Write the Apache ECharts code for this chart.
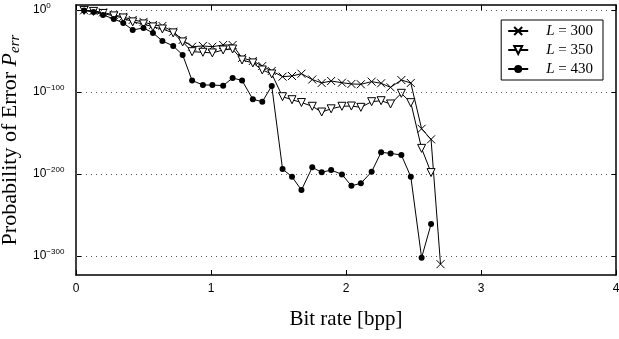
<!DOCTYPE html>
<html><head><meta charset="utf-8">
<script src="https://cdn.jsdelivr.net/npm/echarts@6/dist/echarts.min.js"></script>
<style>html,body{margin:0;padding:0;background:#fff}#c{width:619px;height:339px}</style>
</head><body><div id="c"></div>
<script>
// Bit rate [bpp] sample positions
const bitRate = [0.06,0.13,0.20,0.28,0.35,0.42,0.50,0.57,0.64,0.72,0.79,0.86,0.94,1.01,1.09,1.16,1.23,1.31,1.38,1.45,1.53,1.60,1.67,1.75,1.82,1.89,1.97,2.04,2.11,2.19,2.26,2.33,2.41,2.48,2.56,2.63,2.70];
// log10 of probability of error P_err
const log10Perr_L300 = [-0.5,-1.2,-3,-6.1,-8.5,-12.2,-14.6,-18.3,-19.5,-26.5,-36.6,-44.8,-43.9,-44.8,-42.7,-42.7,-58.5,-62.2,-68.3,-74.4,-81.3,-80.5,-77.7,-84.8,-89,-86.6,-88.7,-90.2,-90.6,-87.4,-89.4,-94.3,-85.4,-89,-144.8,-157.7,-309.8];
const log10Perr_L350 = [-0.6,-1.8,-4.3,-7.3,-9.8,-14.6,-17.1,-20.7,-23.2,-28,-39,-50.9,-51.6,-52.4,-48.8,-47.6,-61,-64.6,-73.2,-78,-105.7,-109.4,-112.8,-117.4,-124.4,-120.5,-117.4,-117.1,-118.7,-111.8,-110.6,-114.6,-101.6,-113,-168.7,-198.2];
const log10Perr_L430 = [-0.6,-2.4,-6.1,-11,-15.9,-24.4,-22,-28,-37.8,-43.9,-54.9,-86,-91.5,-91.5,-92.3,-82.9,-86,-108.9,-111.8,-92.7,-193.9,-203.3,-219.5,-191.8,-197.9,-195.1,-200.4,-214.3,-211.3,-197.2,-173.5,-174.8,-176.8,-203.3,-302,-261];
const seriesNames = ['L = 300','L = 350','L = 430'];
const xTicks = [0,1,2,3,4];
const yTickExponents = [0,-100,-200,-300];

function pairs(ys){ return ys.map((y,i)=>[bitRate[i], y]); }

const sans = '"Liberation Sans", Arial, Helvetica, sans-serif';
const serif = '"Liberation Serif", "Times New Roman", serif';
const yMin = -323, yMax = 6;

const chart = echarts.init(document.getElementById('c'), null, {renderer:'canvas'});
chart.setOption({
  animation:false,
  backgroundColor:'#fff',
  grid:{left:76, right:3, top:5, bottom:64, containLabel:false, outerBoundsMode:'none'},
  legend:{
    orient:'vertical', right:16, top:20,
    itemWidth:20, itemHeight:10, itemGap:3,
    padding:[3,10,3,6],
    borderColor:'#000', borderWidth:1, backgroundColor:'#fff',
    selectedMode:false,
    data:seriesNames,
    formatter: n => '{i|L}' + n.slice(1),
    textStyle:{fontFamily:serif, fontSize:15, color:'#000', lineHeight:16, padding:[0,0,0,13],
      rich:{i:{fontFamily:serif, fontSize:15, fontStyle:'italic', color:'#000'}}}
  },
  xAxis:[{
    type:'value', min:xTicks[0], max:xTicks[xTicks.length-1], interval:1, position:'bottom',
    name:'Bit rate [bpp]', nameLocation:'middle', nameGap:34,
    nameTextStyle:{fontFamily:serif, fontSize:21, color:'#000'},
    axisLine:{show:true, onZero:false, lineStyle:{color:'#000', width:1.5}},
    axisTick:{show:true, inside:true, length:5, lineStyle:{color:'#000'}},
    axisLabel:{show:true, margin:8, fontFamily:sans, fontSize:12, color:'#000'},
    splitLine:{show:false}
  },{
    type:'value', min:xTicks[0], max:xTicks[xTicks.length-1], interval:1, position:'top',
    axisLine:{show:true, onZero:false, lineStyle:{color:'#000', width:1.5}},
    axisTick:{show:true, inside:true, length:5, lineStyle:{color:'#000'}},
    axisLabel:{show:false}, splitLine:{show:false}
  }],
  yAxis:[{
    type:'value', min:yMin, max:yMax, position:'left',
    name:'Probability of Error {p|P}{e|err}', nameLocation:'middle', nameGap:49, nameRotate:90,
    nameTextStyle:{fontFamily:serif, fontSize:22, color:'#000',
      rich:{p:{fontFamily:serif, fontSize:22, fontStyle:'italic', color:'#000'},
            e:{fontFamily:serif, fontSize:15, fontStyle:'italic', color:'#000', padding:[9,0,0,0]}}},
    axisLine:{show:true, onZero:false, lineStyle:{color:'#000', width:1.5}},
    axisTick:{show:true, inside:true, length:5, customValues:yTickExponents, lineStyle:{color:'#000'}},
    axisLabel:{show:true, customValues:yTickExponents, align:'left', margin:43,
      formatter: v => '{b|10}{s|' + (v===0 ? '0' : '\u2212' + (-v)) + '}',
      rich:{b:{fontFamily:sans, fontSize:12, color:'#000'},
            s:{fontFamily:sans, fontSize:8, color:'#000', padding:[0,0,9,0]}}},
    splitLine:{show:false}
  },{
    type:'value', min:yMin, max:yMax, position:'right',
    axisLine:{show:true, onZero:false, lineStyle:{color:'#000', width:1.5}},
    axisTick:{show:true, inside:true, length:5, customValues:yTickExponents, lineStyle:{color:'#000'}},
    axisLabel:{show:false}, splitLine:{show:false}
  }],
  series:[{
    name:seriesNames[0], type:'line', data:pairs(log10Perr_L300),
    symbol:'path://M0,0L10,10M10,0L0,10', symbolSize:8, showAllSymbol:true,
    lineStyle:{color:'#000', width:1},
    itemStyle:{color:'#000', borderColor:'#000', borderWidth:1},
    markLine:{silent:true, symbol:'none', label:{show:false},
      lineStyle:{color:'#555', type:[1,4], width:1},
      data:yTickExponents.map(v=>({yAxis:v}))},
    z:3
  },{
    name:seriesNames[1], type:'line', data:pairs(log10Perr_L350),
    symbol:'path://M0,0L10,0L5,9Z', symbolSize:8, showAllSymbol:true,
    lineStyle:{color:'#000', width:1},
    itemStyle:{color:'#fff', borderColor:'#000', borderWidth:1},
    z:4
  },{
    name:seriesNames[2], type:'line', data:pairs(log10Perr_L430),
    symbol:'circle', symbolSize:6, showAllSymbol:true,
    lineStyle:{color:'#000', width:1},
    itemStyle:{color:'#000', borderWidth:0},
    z:5
  }]
});
</script></body></html>
